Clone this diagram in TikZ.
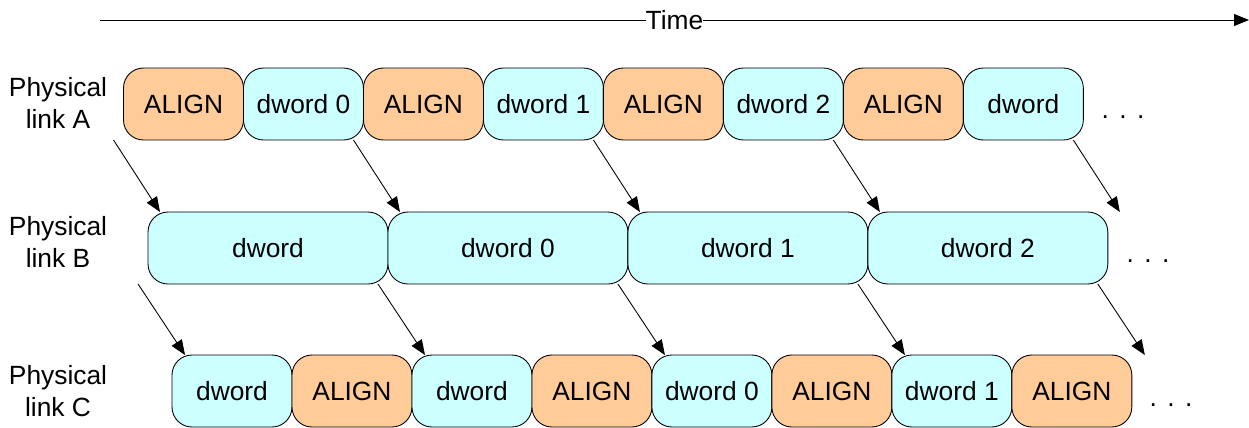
\documentclass[tikz,border=0pt]{standalone}
\usepackage{fontspec}
\setmainfont{Liberation Sans}
\usetikzlibrary{positioning,arrows.meta}
\definecolor{alignorange}{HTML}{FFCC99}
\definecolor{dwordcyan}{HTML}{CCFFFF}
\begin{document}
\begin{tikzpicture}[
    x=0.02cm, y=-0.02cm,
    every node/.style={font=\fontsize{15}{18}\selectfont},
    slot/.style={rectangle, draw, line width=0.5pt, rounded corners=0.4cm, minimum width=2.4cm, minimum height=1.44cm, inner sep=0pt, outer sep=0pt},
    alignbox/.style={slot, fill=alignorange},
    dwordbox/.style={slot, fill=dwordcyan},
    widebox/.style={slot, fill=dwordcyan, minimum width=4.8cm},
    linklabel/.style={align=center},
    arrow/.style={line width=0.5pt, -{Triangle[length=0.3cm,width=0.24cm]}}
]
    \useasboundingbox (0,0) rectangle (1249,427);

    % Time axis
    \coordinate (t0) at (100,20);
    \coordinate (t1) at (1249,20);
    \draw [arrow] (t0) -- node [fill=white, inner sep=0pt] (time) {Time} (t1);

    % Link labels
    \node [linklabel] (labelA) at (58,103) {Physical\\link A};
    \node [linklabel] (labelB) at (58,242) {Physical\\link B};
    \node [linklabel] (labelC) at (58,391) {Physical\\link C};

    % Physical link A
    \node [alignbox] (a1) at (183.5,104) {ALIGN};
    \node [dwordbox, right=0pt of a1] (a2) {dword 0};
    \node [alignbox, right=0pt of a2] (a3) {ALIGN};
    \node [dwordbox, right=0pt of a3] (a4) {dword 1};
    \node [alignbox, right=0pt of a4] (a5) {ALIGN};
    \node [dwordbox, right=0pt of a5] (a6) {dword 2};
    \node [alignbox, right=0pt of a6] (a7) {ALIGN};
    \node [dwordbox, right=0pt of a7] (a8) {dword};
    \node [anchor=base] (dotsA) at (1123,118) {.\hspace{0.21cm}.\hspace{0.21cm}.};

    % Physical link B
    \node [widebox] (b1) at (268,248) {dword};
    \node [widebox, right=0pt of b1] (b2) {dword 0};
    \node [widebox, right=0pt of b2] (b3) {dword 1};
    \node [widebox, right=0pt of b3] (b4) {dword 2};
    \node [anchor=base] (dotsB) at (1148,262) {.\hspace{0.21cm}.\hspace{0.21cm}.};

    % Physical link C
    \node [dwordbox] (c1) at (232,391) {dword};
    \node [alignbox, right=0pt of c1] (c2) {ALIGN};
    \node [dwordbox, right=0pt of c2] (c3) {dword};
    \node [alignbox, right=0pt of c3] (c4) {ALIGN};
    \node [dwordbox, right=0pt of c4] (c5) {dword 0};
    \node [alignbox, right=0pt of c5] (c6) {ALIGN};
    \node [dwordbox, right=0pt of c6] (c7) {dword 1};
    \node [alignbox, right=0pt of c7] (c8) {ALIGN};
    \node [anchor=base] (dotsC) at (1171,406) {.\hspace{0.21cm}.\hspace{0.21cm}.};

    % Arrows A to B
    \draw [arrow] ([xshift=-0.2cm]a1.south west) -- ([xshift=0.24cm]b1.north west);
    \draw [arrow] ([xshift=-0.2cm]a2.south east) -- ([xshift=0.24cm]b2.north west);
    \draw [arrow] ([xshift=-0.2cm]a4.south east) -- ([xshift=0.24cm]b3.north west);
    \draw [arrow] ([xshift=-0.2cm]a6.south east) -- ([xshift=0.24cm]b4.north west);
    \draw [arrow] ([xshift=-0.2cm]a8.south east) -- ([xshift=0.24cm]b4.north east);

    % Arrows B to C
    \draw [arrow] ([xshift=-0.2cm]b1.south west) -- ([xshift=0.26cm]c1.north west);
    \draw [arrow] ([xshift=-0.2cm]b1.south east) -- ([xshift=0.26cm]c3.north west);
    \draw [arrow] ([xshift=-0.2cm]b2.south east) -- ([xshift=0.26cm]c5.north west);
    \draw [arrow] ([xshift=-0.2cm]b3.south east) -- ([xshift=0.26cm]c7.north west);
    \draw [arrow] ([xshift=-0.2cm]b4.south east) -- ([xshift=0.26cm]c8.north east);
\end{tikzpicture}
\end{document}
